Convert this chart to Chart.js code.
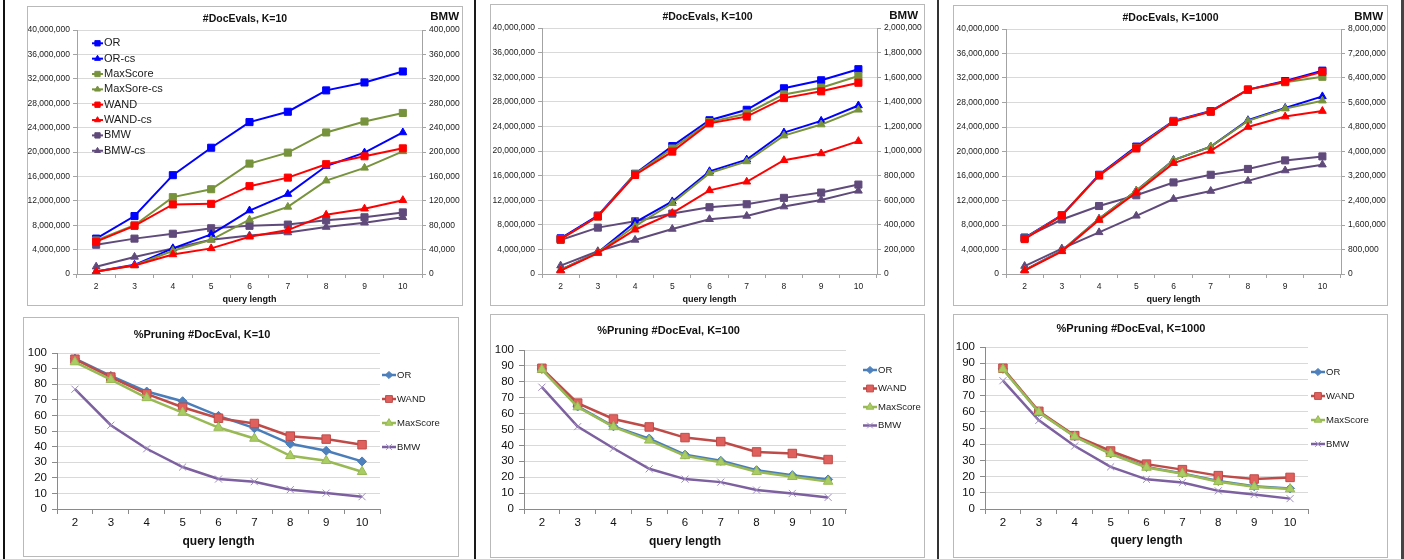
<!DOCTYPE html>
<html>
<head>
<meta charset="utf-8">
<script src="https://cdn.jsdelivr.net/npm/chart.js@4"></script>
<style>
body{margin:0;background:#fff;width:1404px;height:559px;position:relative;overflow:hidden}
.box{position:absolute;border:1px solid #b9b9b9;background:#fff}
.box canvas{display:block}
.sep{position:absolute;top:0;height:559px}
</style>
</head>
<body>
<div class="sep" style="left:3px;width:2px;background:#111"></div>
<div class="sep" style="left:474px;width:2px;background:#1a1a1a"></div>
<div class="sep" style="left:937px;width:2px;background:#333"></div>
<div class="sep" style="left:1401px;width:3px;background:#444"></div>
<script>
const queryLength=["2","3","4","5","6","7","8","9","10"]

// #DocEvals, K=10  (BMW series on the right axis)
const k10OR=[5800000,9500000,16200000,20700000,24900000,26600000,30100000,31400000,33200000]
const k10ORcs=[400000,1500000,4200000,6500000,10400000,13100000,17700000,19900000,23200000]
const k10MaxScore=[5500000,8000000,12600000,13900000,18100000,19900000,23200000,25000000,26400000]
const k10MaxScoreCs=[400000,1400000,3800000,5600000,8900000,11000000,15300000,17400000,20100000]
const k10WAND=[5300000,7900000,11400000,11500000,14400000,15800000,18000000,19300000,20600000]
const k10WANDcs=[400000,1400000,3200000,4200000,6100000,7200000,9700000,10700000,12100000]
const k10BMW=[48000,58000,66000,75000,79000,81000,88000,93000,101000]
const k10BMWcs=[12000,28000,42000,56000,63000,68000,77000,84000,93000]

// #DocEvals, K=100
const k100OR=[5800000,9500000,16300000,20800000,25000000,26700000,30200000,31500000,33300000]
const k100ORcs=[650000,3500000,8400000,11800000,16700000,18600000,23000000,24900000,27400000]
const k100MaxScore=[5650000,9350000,16200000,20400000,24700000,26100000,29200000,30300000,32200000]
const k100MaxScoreCs=[650000,3500000,7800000,11500000,16400000,18300000,22500000,24300000,26700000]
const k100WAND=[5650000,9350000,16100000,19900000,24500000,25600000,28600000,29700000,31100000]
const k100WANDcs=[550000,3400000,7200000,9900000,13600000,15000000,18500000,19600000,21600000]
const k100BMW=[277000,377000,429000,491000,543000,567000,619000,662000,727000]
const k100BMWcs=[68000,185000,277000,366000,445000,472000,548000,602000,676000]

// #DocEvals, K=1000
const k1000OR=[5900000,9600000,16200000,20800000,25000000,26600000,30100000,31500000,33200000]
const k1000ORcs=[650000,3800000,9000000,13600000,18600000,20800000,25100000,27100000,29000000]
const k1000MaxScore=[5800000,9550000,16100000,20600000,24900000,26500000,30100000,31300000,32200000]
const k1000MaxScoreCs=[650000,3800000,9000000,13600000,18600000,20800000,25000000,27000000,28300000]
const k1000WAND=[5700000,9550000,16100000,20500000,24850000,26500000,30100000,31400000,33000000]
const k1000WANDcs=[550000,3700000,8800000,13300000,18100000,20100000,24000000,25700000,26600000]
const k1000BMW=[1190000,1780000,2220000,2570000,2990000,3240000,3430000,3710000,3840000]
const k1000BMWcs=[260000,830000,1360000,1900000,2450000,2710000,3040000,3380000,3570000]

// %Pruning #DocEval
const p10OR=[96.4,85.3,75.3,69.1,59.7,51.8,41.8,37.3,30.5]
const p10WAND=[96,84.6,73.8,65.2,58.2,54.8,46.7,44.8,41.2]
const p10MaxScore=[94.2,82.9,71.2,61.8,52.2,45.2,34.1,30.9,23.9]
const p10BMW=[76.8,53.7,38.6,26.9,19.2,17.5,12.4,10.2,7.9]

const p100OR=[88.1,64.5,52,44.3,34.2,30.3,24.4,21.3,18.6]
const p100WAND=[88.5,66.6,56.6,51.6,44.9,42.4,35.9,34.9,31.1]
const p100MaxScore=[87.7,64.1,51.6,43.2,33.4,29.4,23.4,20.3,17.3]
const p100BMW=[76.6,51.8,38.2,25.3,18.8,16.9,11.9,9.8,7.3]

const p1000OR=[86.5,59.9,44.9,34.3,26,22,17.3,14.1,12.7]
const p1000WAND=[86.9,60.3,45.3,35.8,27.7,24.3,20.6,18.5,19.5]
const p1000MaxScore=[86.3,59.7,44.7,34.1,25.6,21.8,16.8,13.7,12.3]
const p1000BMW=[79.2,54.7,38.9,26,18.3,16.4,11.2,8.9,6.4]

// axis ranges
const docEvalMax=40000000
const docEvalStep=4000000
const bmwMax10=400000
const bmwMax100=2000000
const bmwMax1000=8000000
const pruningMax=100
const pruningStep=10

const FONT="'Liberation Sans', Arial, sans-serif"
Chart.defaults.font.family=FONT
Chart.defaults.color="#222"

const axisGray="#a3a3a3"
const gridGray="#d9d9d9"

function makeBox(x,y,w,h){
  const box=document.createElement("div")
  box.className="box"
  box.style.cssText="left:"+x+"px;top:"+y+"px;width:"+(w-2)+"px;height:"+(h-2)+"px"
  const canvas=document.createElement("canvas")
  canvas.width=w-2
  canvas.height=h-2
  box.appendChild(canvas)
  document.body.appendChild(box)
  return canvas
}

function gridColor(c){
  return c.tick && c.tick.value===0 ? "rgba(0,0,0,0)" : gridGray
}

// legend drawn at a fixed spot (inside the plot for the top row, to the right for the bottom row)
const boxLegend={
  id:"boxLegend",
  afterDraw(chart,args,o){
    if(!o.show) return
    const ctx=chart.ctx
    ctx.save()
    chart.data.datasets.forEach((ds,i)=>{
      const y=o.y+i*o.gap
      ctx.strokeStyle=ds.borderColor
      ctx.lineWidth=ds.borderWidth
      ctx.beginPath()
      ctx.moveTo(o.x,y)
      ctx.lineTo(o.x+o.len,y)
      ctx.stroke()
      ctx.fillStyle=ds.pointBackgroundColor
      ctx.strokeStyle=ds.pointBorderColor
      ctx.lineWidth=1
      Chart.helpers.drawPoint(ctx,{pointStyle:ds.pointStyle,radius:ds.pointRadius*o.scale,borderWidth:1,rotation:0},o.x+o.len/2,y)
      ctx.fillStyle="#1a1a1a"
      ctx.font=o.size+"px "+FONT
      ctx.textAlign="left"
      ctx.textBaseline="middle"
      ctx.fillText(ds.label,o.x+o.len+1,y)
    })
    ctx.restore()
  }
}

const axisName={
  id:"axisName",
  afterDraw(chart,args,o){
    if(!o.text) return
    const ctx=chart.ctx
    ctx.save()
    ctx.font="bold 11.5px "+FONT
    ctx.fillStyle="#111"
    ctx.textAlign="right"
    ctx.textBaseline="middle"
    ctx.fillText(o.text,o.x,o.y)
    ctx.restore()
  }
}

function topSet(label,data,color,shape,axis,order){
  return {
    label:label,data:data,yAxisID:axis,order:order,
    borderColor:color,backgroundColor:color,borderWidth:2,
    pointStyle:shape,pointRadius:shape==="rect"?5:4.5,
    pointBackgroundColor:color,pointBorderColor:color,pointBorderWidth:1
  }
}

function docEvals(p){
  const canvas=makeBox(p.x,p.y,p.w,p.h)
  const d=p.data
  new Chart(canvas,{
    type:"line",
    data:{
      labels:queryLength,
      datasets:[
        topSet("OR",d[0],"#0000FF","rect","y",4),
        topSet("OR-cs",d[1],"#0000FF","triangle","y",5),
        topSet("MaxScore",d[2],"#77933C","rect","y",2),
        topSet("MaxSore-cs",d[3],"#77933C","triangle","y",3),
        topSet("WAND",d[4],"#FF0000","rect","y",0),
        topSet("WAND-cs",d[5],"#FF0000","triangle","y",1),
        topSet("BMW",d[6],"#604A7B","rect","y2",6),
        topSet("BMW-cs",d[7],"#604A7B","triangle","y2",7)
      ]
    },
    options:{
      responsive:false,
      animation:false,
      layout:{padding:0},
      plugins:{
        legend:{display:false},
        tooltip:{enabled:false},
        title:{display:true,text:p.title,color:"#111",font:{size:10.5,weight:"bold"},padding:{top:p.tTop,bottom:p.tBottom}},
        boxLegend:p.legend||{show:false},
        axisName:{text:"BMW",x:p.bmwX,y:p.bmwY}
      },
      scales:{
        x:{
          offset:true,
          grid:{offset:true,drawOnChartArea:false,tickLength:4,tickColor:axisGray},
          border:{color:axisGray},
          ticks:{font:{size:8.5},padding:4,color:"#222",maxRotation:0,autoSkip:false},
          title:{display:true,text:"query length",color:"#111",font:{size:9,weight:"bold"},padding:{top:0,bottom:0}},
          afterFit(s){s.height=31}
        },
        y:{
          position:"left",min:0,max:docEvalMax,
          ticks:{stepSize:docEvalStep,autoSkip:false,font:{size:8.5},padding:3,color:"#222",callback:v=>v.toLocaleString("en-US")},
          grid:{color:gridColor,tickLength:4,tickColor:axisGray},
          border:{color:axisGray},
          afterFit(s){s.width=p.leftW}
        },
        y2:{
          position:"right",min:0,max:p.bmwMax,
          ticks:{stepSize:p.bmwMax/10,autoSkip:false,font:{size:8.5},padding:3,color:"#222",callback:v=>v.toLocaleString("en-US")},
          grid:{drawOnChartArea:false,tickLength:4,tickColor:axisGray},
          border:{color:axisGray},
          afterFit(s){s.width=p.rightW}
        }
      }
    },
    plugins:[boxLegend,axisName]
  })
}

function pruneSet(label,data,line,fill,edge,shape,radius,order){
  return {
    label:label,data:data,order:order,
    borderColor:line,backgroundColor:fill,borderWidth:2.5,
    pointStyle:shape,pointRadius:radius,
    pointBackgroundColor:fill,pointBorderColor:edge,pointBorderWidth:1
  }
}

function pruning(p){
  const canvas=makeBox(p.x,p.y,p.w,p.h)
  const d=p.data
  new Chart(canvas,{
    type:"line",
    data:{
      labels:queryLength,
      datasets:[
        pruneSet("OR",d[0],"#4A7EBB","#4F81BD","#4A7EBB","rectRot",4.5,2),
        pruneSet("WAND",d[1],"#BE4B48","#E0605D","#BE4B48","rect",6,1),
        pruneSet("MaxScore",d[2],"#98B954","#A9CC63","#98B954","triangle",5.5,0),
        pruneSet("BMW",d[3],"#7D60A0","#9E8BC0","#9E8BC0","crossRot",5,3)
      ]
    },
    options:{
      responsive:false,
      animation:false,
      layout:{padding:{left:0,top:0,bottom:0,right:p.rightPad}},
      plugins:{
        legend:{display:false},
        tooltip:{enabled:false},
        title:{display:true,text:p.title,color:"#111",font:{size:11,weight:"bold"},padding:{top:p.tTop,bottom:p.tBottom}},
        boxLegend:p.legend,
        axisName:{text:""}
      },
      scales:{
        x:{
          offset:true,
          grid:{offset:true,drawOnChartArea:false,tickLength:5,tickColor:"#8a8a8a"},
          border:{color:"#8a8a8a"},
          ticks:{font:{size:11.5},padding:2,color:"#111",maxRotation:0,autoSkip:false},
          title:{display:true,text:"query length",color:"#111",font:{size:12,weight:"bold"},padding:{top:0,bottom:p.xPad}},
          afterFit(s){s.height=p.xH}
        },
        y:{
          min:0,max:pruningMax,
          ticks:{stepSize:pruningStep,autoSkip:false,font:{size:11.5},padding:5,color:"#111"},
          grid:{color:gridColor,tickLength:5,tickColor:"#8a8a8a"},
          border:{color:"#8a8a8a"},
          afterFit(s){s.width=p.leftW}
        }
      }
    },
    plugins:[boxLegend,axisName]
  })
}

docEvals({x:27,y:6,w:436,h:300,title:"#DocEvals, K=10",tTop:6.2,tBottom:4.2,leftW:49,rightW:40,
  bmwMax:bmwMax10,bmwX:431,bmwY:10,
  data:[k10OR,k10ORcs,k10MaxScore,k10MaxScoreCs,k10WAND,k10WANDcs,k10BMW,k10BMWcs],
  legend:{show:true,x:64,y:36.3,gap:15.35,len:11,size:11,scale:0.75}})

docEvals({x:490,y:4,w:435,h:302,title:"#DocEvals, K=100",tTop:5.7,tBottom:4.7,leftW:51,rightW:47,
  bmwMax:bmwMax100,bmwX:427,bmwY:11,
  data:[k100OR,k100ORcs,k100MaxScore,k100MaxScoreCs,k100WAND,k100WANDcs,k100BMW,k100BMWcs]})

docEvals({x:953,y:5,w:435,h:301,title:"#DocEvals, K=1000",tTop:5.7,tBottom:4.7,leftW:52,rightW:46,
  bmwMax:bmwMax1000,bmwX:429,bmwY:11,
  data:[k1000OR,k1000ORcs,k1000MaxScore,k1000MaxScoreCs,k1000WAND,k1000WANDcs,k1000BMW,k1000BMWcs]})

pruning({x:23,y:317,w:436,h:240,title:"%Pruning #DocEval, K=10",tTop:10.4,tBottom:11.4,leftW:33,rightPad:78,xH:47,xPad:6.8,
  data:[p10OR,p10WAND,p10MaxScore,p10BMW],
  legend:{show:true,x:358,y:57,gap:24,len:14,size:9.5,scale:0.8}})

pruning({x:490,y:314,w:435,h:244,title:"%Pruning #DocEval, K=100",tTop:9.4,tBottom:12.4,leftW:33,rightPad:78,xH:48,xPad:7.8,
  data:[p100OR,p100WAND,p100MaxScore,p100BMW],
  legend:{show:true,x:372,y:55,gap:18.5,len:14,size:9.5,scale:0.8}})

pruning({x:953,y:314,w:435,h:244,title:"%Pruning #DocEval, K=1000",tTop:7.4,tBottom:11.4,leftW:31,rightPad:79,xH:48,xPad:8.8,
  data:[p1000OR,p1000WAND,p1000MaxScore,p1000BMW],
  legend:{show:true,x:357,y:57,gap:24,len:14,size:9.5,scale:0.8}})
</script>
</body>
</html>
